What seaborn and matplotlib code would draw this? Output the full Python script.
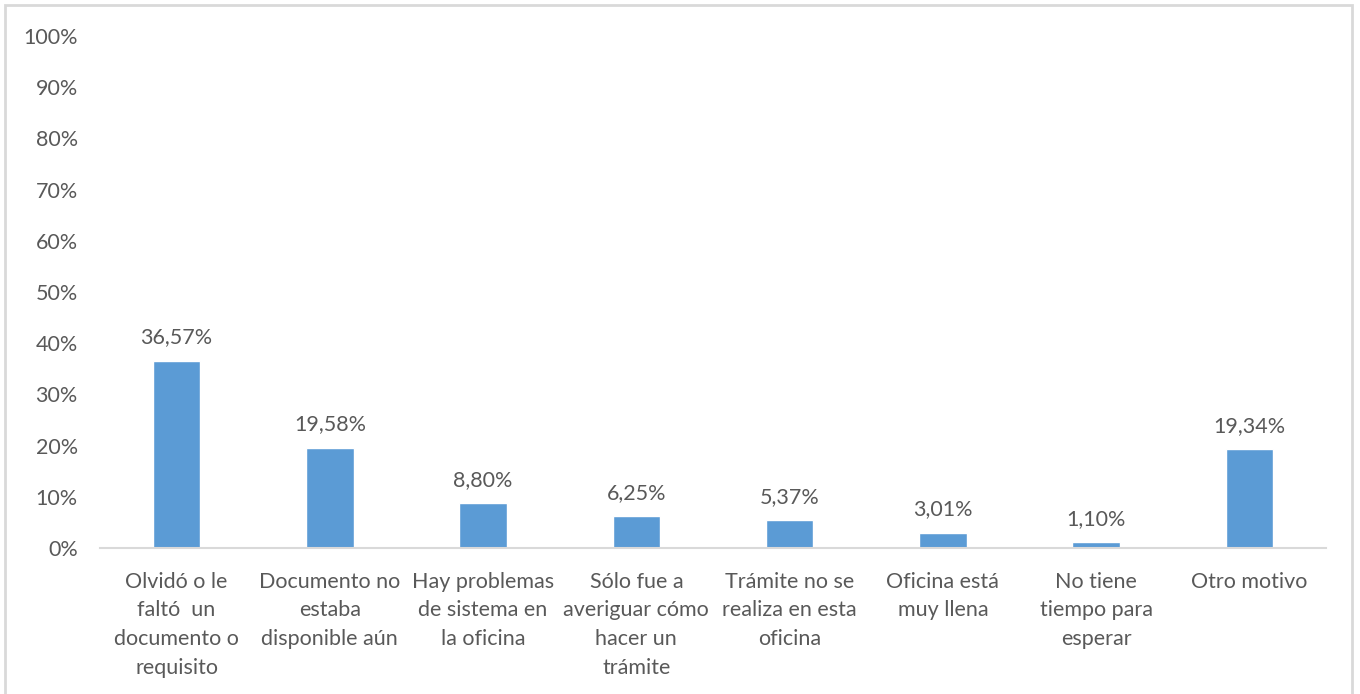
import matplotlib

matplotlib.use("Agg")

import matplotlib.pyplot as plt
import pandas as pd
import seaborn as sns
from matplotlib.patches import Rectangle
from matplotlib.ticker import FuncFormatter, MultipleLocator

CATEGORIES = [
    "Olvidó o le\nfaltó  un\ndocumento o\nrequisito",
    "Documento no\nestaba\ndisponible aún",
    "Hay problemas\nde sistema en\nla oficina",
    "Sólo fue a\naveriguar cómo\nhacer un\ntrámite",
    "Trámite no se\nrealiza en esta\noficina",
    "Oficina está\nmuy llena",
    "No tiene\ntiempo para\nesperar",
    "Otro motivo",
]
PERCENTAGES = [36.57, 19.58, 8.80, 6.25, 5.37, 3.01, 1.10, 19.34]

BAR_COLOR = "#5B9BD5"
TEXT_COLOR = "#595959"
LINE_COLOR = "#D9D9D9"
FONT_SIZE = 15.5

sns.set_style("white")
plt.rcParams["font.family"] = ["Lato", "DejaVu Sans"]

data = pd.DataFrame({"motivo": CATEGORIES, "pct": PERCENTAGES})

fig = plt.figure(figsize=(13.6, 6.94), dpi=100)
ax = fig.add_axes([0.0735, 0.2104, 0.9015, 0.7376])

sns.barplot(data=data, x="motivo", y="pct", color=BAR_COLOR, width=0.31, saturation=1, ax=ax)

for i, value in enumerate(PERCENTAGES):
    ax.text(i, value + 2.6, f"{value:.2f}%".replace(".", ","), ha="center", va="bottom",
            fontsize=FONT_SIZE, color=TEXT_COLOR)

ax.set_ylim(0, 100)
ax.set_xlim(-0.5, len(CATEGORIES) - 0.5)
ax.yaxis.set_major_locator(MultipleLocator(10))
ax.yaxis.set_major_formatter(FuncFormatter(lambda v, _: f"{v:.0f}%"))
ax.set_xlabel("")
ax.set_ylabel("")
ax.tick_params(axis="both", length=0, labelsize=FONT_SIZE, labelcolor=TEXT_COLOR)
ax.tick_params(axis="y", pad=16)
ax.tick_params(axis="x", pad=17)
ax.set_xticks(range(len(CATEGORIES)))
ax.set_xticklabels(CATEGORIES, linespacing=1.55, va="top")

for side in ["top", "right", "left"]:
    ax.spines[side].set_visible(False)
ax.spines["bottom"].set_color(LINE_COLOR)
ax.spines["bottom"].set_linewidth(1.5)

fig.patches.append(Rectangle((0.004, -0.05), 0.99, 1.043, transform=fig.transFigure,
                             fill=False, edgecolor=LINE_COLOR, linewidth=2))

fig.savefig("out.png", dpi=100)
